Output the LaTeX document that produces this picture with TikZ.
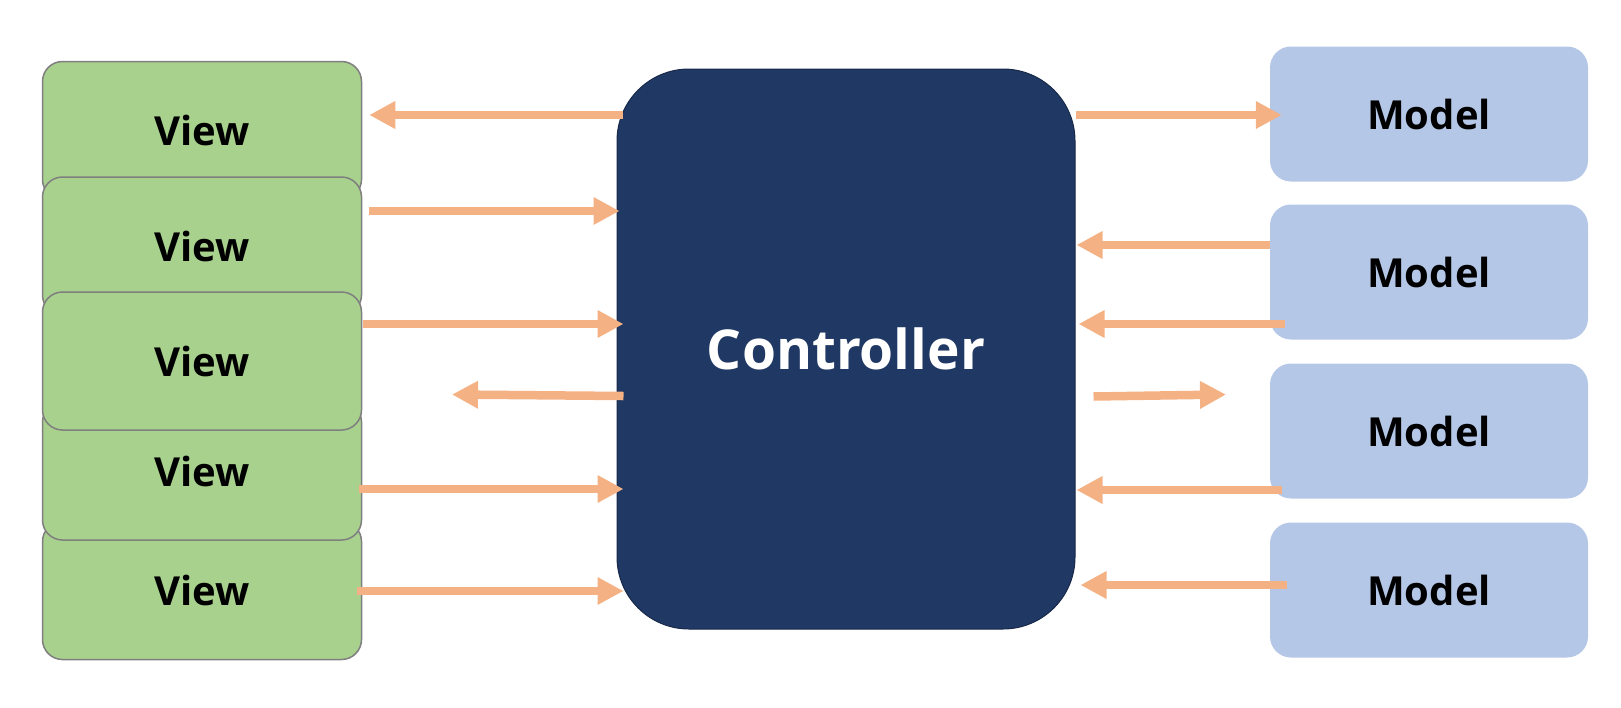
\documentclass[tikz,border=0pt]{standalone}
\usepackage{fontspec}
\setmainfont{Open Sans}
\usetikzlibrary{arrows.meta}
\definecolor{viewfill}{HTML}{A9D18E}
\definecolor{viewline}{HTML}{7F7F7F}
\definecolor{modelfill}{HTML}{B4C7E7}
\definecolor{ctrlfill}{HTML}{203864}
\definecolor{ctrlline}{HTML}{18294A}
\definecolor{flowcol}{HTML}{F4B183}

\begin{document}
\begin{tikzpicture}[x=1pt, y=-1pt,
		viewbox/.style={draw=viewline, line width=1.5pt, fill=viewfill,
			rounded corners=20pt, minimum width=319pt, minimum height=138pt,
			inner sep=0pt, font=\fontsize{40}{48}\selectfont\bfseries},
		modelbox/.style={fill=modelfill, rounded corners=21pt,
			minimum width=318pt, minimum height=135pt, inner sep=0pt,
			font=\fontsize{40}{48}\selectfont\bfseries},
		ctrlbox/.style={draw=ctrlline, line width=1pt, fill=ctrlfill,
			rounded corners=72pt, minimum width=458pt, minimum height=560pt,
			text=white, font=\fontsize{55}{66}\selectfont\bfseries},
		flow/.style={draw=flowcol, line width=8.5pt,
			-{Triangle[length=26pt, width=26pt]}}]
		\def\vx{202}  % view column
		\def\mx{1429} % model column
		
		\useasboundingbox (0,0) rectangle (1621,707);
		
		% --- views (stacked, the middle one on top) ---
		\node[viewbox] (v1) at (\vx, 130.5) {View};
		\node[viewbox] (v2) at (\vx, 246) {View};
		\node[viewbox] (v5) at (\vx, 590.5) {View};
		\node[viewbox] (v4) at (\vx, 471) {View};
		\node[viewbox] (v3) at (\vx, 361) {View};
		
		% --- controller ---
		\node[ctrlbox] (ctrl) at (846, 349) {Controller};
		
		% --- models ---
		\node[modelbox] (m1) at (\mx, 114) {Model};
		\node[modelbox] (m2) at (\mx, 272) {Model};
		\node[modelbox] (m3) at (\mx, 431) {Model};
		\node[modelbox] (m4) at (\mx, 590) {Model};
		
		% free arrow ends
		\coordinate (lfree) at (452, 394.5);
		\coordinate (rfree) at (1226, 394.5);
		
		% --- view side arrows ---
		\draw[flow] ([xshift=6pt]ctrl.west |- 0,115) -- ([xshift=7pt]v1.east |- 0,115);
		\draw[flow] ([xshift=7pt]v2.east |- 0,211) -- ([xshift=3pt]ctrl.west |- 0,211);
		\draw[flow] ([xshift=1pt]v3.east |- 0,324) -- ([xshift=7pt]ctrl.west |- 0,324);
		\draw[flow] ([xshift=7pt]ctrl.west |- 0,396) -- (lfree);
		\draw[flow] ([xshift=-3pt]v4.east |- 0,489) -- ([xshift=7pt]ctrl.west |- 0,489);
		\draw[flow] ([xshift=-5pt]v5.east |- 0,591) -- ([xshift=7pt]ctrl.west |- 0,591);
		
		% --- model side arrows ---
		\draw[flow] (ctrl.east |- 0,115) -- ([xshift=12pt]m1.west |- 0,115);
		\draw[flow] (m2.west |- 0,245) -- ([xshift=1pt]ctrl.east |- 0,245);
		\draw[flow] ([xshift=15pt]m2.west |- 0,324) -- ([xshift=3pt]ctrl.east |- 0,324);
		\draw[flow] ([xshift=18pt]ctrl.east |- 0,396.5) -- (rfree);
		\draw[flow] ([xshift=12pt]m3.west |- 0,490) -- ([xshift=1pt]ctrl.east |- 0,490);
		\draw[flow] ([xshift=17pt]m4.west |- 0,585) -- ([xshift=5pt]ctrl.east |- 0,585);
		
	\end{tikzpicture}
\end{document}
